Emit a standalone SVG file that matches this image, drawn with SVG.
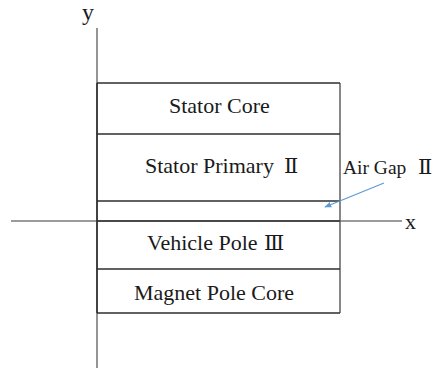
<svg xmlns="http://www.w3.org/2000/svg" width="436" height="372" viewBox="0 0 436 372">
  <style>
    .axis { stroke: #7a7a7a; stroke-width: 1.6; fill: none; }
    .edge { stroke: #6a6a6a; stroke-width: 1.6; fill: none; }
    .sep { stroke: #2e2e2e; stroke-width: 1.6; fill: none; }
    .lbl { font-family: "Liberation Serif", "Noto Sans CJK SC", serif; font-size: 22px; fill: #1a1a1a; }
    .num { font-family: "Liberation Serif", "DejaVu Serif", "Noto Sans CJK SC", serif; font-size: 21px; fill: #1a1a1a; }
    .lead { stroke: #5b9bd5; stroke-width: 1.2; fill: none; }
  </style>
  <defs>
    <marker id="tip" viewBox="0 0 10 10" refX="9" refY="5" markerWidth="7" markerHeight="7" orient="auto" markerUnits="userSpaceOnUse">
      <path d="M0,1 L10,5 L0,9 Z" fill="#5b9bd5"/>
    </marker>
  </defs>

  <!-- coordinate axes -->
  <g id="axes">
    <line class="axis" x1="97" y1="28" x2="97" y2="368"/>
    <line class="axis" x1="11" y1="221" x2="402" y2="221"/>
    <text class="lbl" x="82" y="20" style="font-size:24px">y</text>
    <text class="lbl" x="405" y="229">x</text>
  </g>

  <!-- layered stack -->
  <g id="stack">
    <line class="edge" x1="340" y1="83" x2="340" y2="313"/>
    <line class="sep" x1="97" y1="83" x2="97" y2="313"/>
    <line class="sep" x1="97" y1="83" x2="340" y2="83"/>
    <line class="sep" x1="97" y1="134" x2="340" y2="134"/>
    <line class="sep" x1="97" y1="201" x2="340" y2="201"/>
    <line class="sep" x1="97" y1="221" x2="340" y2="221"/>
    <line class="sep" x1="97" y1="269" x2="340" y2="269"/>
    <line class="sep" x1="97" y1="313" x2="340" y2="313"/>
  </g>

  <g id="stator-core">
    <text class="lbl" x="169" y="113">Stator Core</text>
  </g>
  <g id="stator-primary">
    <text class="lbl" x="145" y="173">Stator Primary</text>
    <text class="num" x="284" y="173">Ⅱ</text>
  </g>
  <g id="air-gap">
    <text class="lbl" x="343" y="174" style="font-size:19.5px">Air Gap</text>
    <text class="num" x="418" y="174">Ⅱ</text>
  </g>
  <g id="vehicle-pole">
    <text class="lbl" x="147" y="250">Vehicle Pole</text>
    <text class="num" x="264" y="250">Ⅲ</text>
  </g>
  <g id="magnet-pole-core">
    <text class="lbl" x="134" y="300">Magnet Pole Core</text>
  </g>

  <!-- leader from the air gap label -->
  <g id="connectors">
    <line class="lead" x1="384" y1="183" x2="325" y2="207" marker-end="url(#tip)"/>
  </g>
</svg>
